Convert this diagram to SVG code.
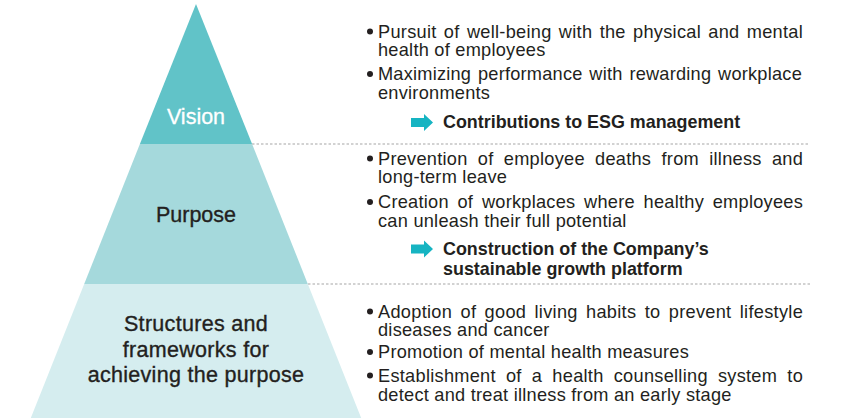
<svg xmlns="http://www.w3.org/2000/svg" width="849" height="418" viewBox="0 0 849 418">
<style>
.t{font-family:"Liberation Sans",Arial,sans-serif;font-size:18.2px;letter-spacing:0.25px;fill:#231f20}
.b{font-family:"Liberation Sans",Arial,sans-serif;font-size:17.9px;font-weight:bold;fill:#231f20}
.lbl{font-family:"Liberation Sans",Arial,sans-serif;font-size:21.5px;text-anchor:middle;fill:#231f20;stroke:#231f20;stroke-width:0.35}
.dash{stroke:#a6a6a6;stroke-width:1.2;stroke-dasharray:2.5 2;fill:none}
.dot{fill:#231f20}
.arr{fill:#16b4c2}
</style>
<defs>
<path id="arrow" d="M0,-4.5 H13 V-8.5 L22,0 L13,8.5 V4.5 H0 Z"/>
</defs>
<g id="connectors">
<line class="dash" x1="252" y1="144" x2="810" y2="144"/>
<line class="dash" x1="308" y1="284" x2="810" y2="284"/>
</g>
<g id="vision">
<polygon points="196,4 252.1,144 139.9,144" fill="#61c3c8"/>
<text class="lbl" x="196" y="124" style="fill:#ffffff;stroke:#ffffff;stroke-width:0.3">Vision</text>
</g>
<g id="purpose">
<polygon points="139.9,144 252.1,144 307.8,284 84.2,284" fill="#a5d9dc"/>
<text class="lbl" x="196" y="222">Purpose</text>
</g>
<g id="structures">
<polygon points="84.2,284 307.8,284 361.2,418 30.8,418" fill="#d5edef"/>
<text class="lbl" x="196" y="331" style="letter-spacing:0.3px">Structures and</text>
<text class="lbl" x="196" y="357" style="letter-spacing:0.3px">frameworks for</text>
<text class="lbl" x="196" y="382" style="letter-spacing:0.3px">achieving the purpose</text>
</g>
<g id="vision-text">
<circle class="dot" cx="370" cy="31.5" r="3"/>
<text class="t" x="378" y="37.5" textLength="425" lengthAdjust="spacing" style="word-spacing:2px">Pursuit of well-being with the physical and mental</text>
<text class="t" x="378" y="56">health of employees</text>
<circle class="dot" cx="370" cy="74" r="3"/>
<text class="t" x="378" y="80" textLength="424" lengthAdjust="spacing" style="word-spacing:1.5px">Maximizing performance with rewarding workplace</text>
<text class="t" x="378" y="98.5">environments</text>
<use href="#arrow" class="arr" x="411" y="122.5"/>
<text class="b" x="443" y="127.5">Contributions to ESG management</text>
</g>
<g id="purpose-text">
<circle class="dot" cx="370" cy="158.5" r="3"/>
<text class="t" x="378" y="164.5" textLength="425" lengthAdjust="spacing" style="word-spacing:5px">Prevention of employee deaths from illness and</text>
<text class="t" x="378" y="183">long-term leave</text>
<circle class="dot" cx="370" cy="202" r="3"/>
<text class="t" x="378" y="208" textLength="425" lengthAdjust="spacing" style="word-spacing:3.4px">Creation of workplaces where healthy employees</text>
<text class="t" x="378" y="226.5">can unleash their full potential</text>
<use href="#arrow" class="arr" x="411" y="249"/>
<text class="b" x="443" y="255">Construction of the Company’s</text>
<text class="b" x="443" y="275">sustainable growth platform</text>
</g>
<g id="structures-text">
<circle class="dot" cx="370" cy="311.5" r="3"/>
<text class="t" x="378" y="317.5" textLength="425" lengthAdjust="spacing" style="word-spacing:3px">Adoption of good living habits to prevent lifestyle</text>
<text class="t" x="378" y="336">diseases and cancer</text>
<circle class="dot" cx="370" cy="352" r="3"/>
<text class="t" x="378" y="358">Promotion of mental health measures</text>
<circle class="dot" cx="370" cy="375.5" r="3"/>
<text class="t" x="378" y="381.5" textLength="425" lengthAdjust="spacing" style="word-spacing:4.8px">Establishment of a health counselling system to</text>
<text class="t" x="378" y="400.5">detect and treat illness from an early stage</text>
</g>
</svg>
